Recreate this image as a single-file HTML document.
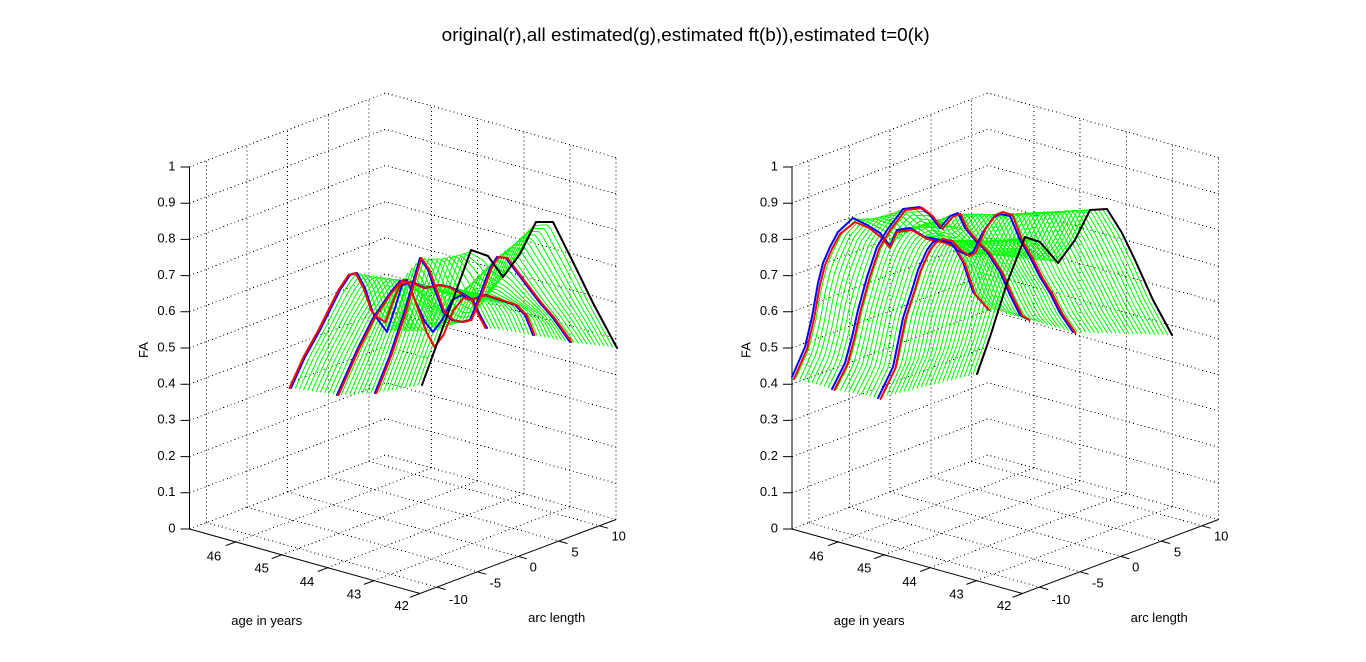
<!DOCTYPE html>
<html><head><meta charset="utf-8"><style>
html,body{margin:0;padding:0;background:#fff;overflow:hidden}
svg{display:block}
text{font-family:"Liberation Sans",Arial,sans-serif;fill:#000}
.t{font-size:13px}
</style></head><body>
<svg id="s" width="1366" height="662" viewBox="0 0 1366 662" xmlns="http://www.w3.org/2000/svg">
<rect width="1366" height="662" fill="#fff"/>
<text x="441.7" y="41" font-size="18.5" textLength="488" lengthAdjust="spacingAndGlyphs">original(r),all estimated(g),estimated ft(b)),estimated t=0(k)</text>
<defs>
<g id="ax">
<path fill="none" stroke="#000" stroke-width="1" stroke-dasharray="1 3" shape-rendering="crispEdges" d="M189.5 529L385.5 455L616 519.5M189.5 492.8L385.5 418.8L616 483.3M189.5 456.6L385.5 382.6L616 447.1M189.5 420.4L385.5 346.4L616 410.9M189.5 384.2L385.5 310.2L616 374.7M189.5 348L385.5 274L616 338.5M189.5 311.8L385.5 237.8L616 302.3M189.5 275.6L385.5 201.6L616 266.1M189.5 239.4L385.5 165.4L616 229.9M189.5 203.2L385.5 129.2L616 193.7M189.5 167L385.5 93L616 157.5M206.4 522.6V160.6M246.9 507.3V145.3M287.7 491.9V129.9M328.3 476.6V114.6M368.8 461.3V99.3M431.6 467.9V105.9M477.7 480.8V118.8M523.8 493.7V131.7M569.9 506.6V144.6M616 519.5V157.5M235.6 541.9L431.6 467.9M281.7 554.8L477.7 480.8M327.8 567.7L523.8 493.7M373.9 580.6L569.9 506.6M206.4 522.6L436.9 587.1M246.9 507.3L477.4 571.8M287.7 491.9L518.2 556.4M328.3 476.6L558.8 541.1M368.8 461.3L599.3 525.8"/>
<path fill="none" stroke="#000" stroke-width="1" d="M189.5 529V167M189.5 529L420 593.5L616 519.5M180.5 529H189.5M180.5 492.8H189.5M180.5 456.6H189.5M180.5 420.4H189.5M180.5 384.2H189.5M180.5 348H189.5M180.5 311.8H189.5M180.5 275.6H189.5M180.5 239.4H189.5M180.5 203.2H189.5M180.5 167H189.5M235.6 541.9l-10 3.8M281.7 554.8l-10 3.8M327.8 567.7l-10 3.8M373.9 580.6l-10 3.8M420 593.5l-10 3.8M436.9 587.1l8.7 2.4M477.4 571.8l8.7 2.4M518.2 556.4l8.7 2.4M558.8 541.1l8.7 2.4M599.3 525.8l8.7 2.4"/>
</g>
</defs>
<use href="#ax"/>
<use href="#ax" transform="translate(602.5,0)"/>

<!-- left labels -->
<g class="t">
<g text-anchor="end">
<text x="175.5" y="532.3">0</text><text x="175.5" y="496.1">0.1</text><text x="175.5" y="459.9">0.2</text><text x="175.5" y="423.7">0.3</text><text x="175.5" y="387.5">0.4</text><text x="175.5" y="351.3">0.5</text><text x="175.5" y="315.1">0.6</text><text x="175.5" y="278.9">0.7</text><text x="175.5" y="242.7">0.8</text><text x="175.5" y="206.5">0.9</text><text x="175.5" y="170.3">1</text>
</g>
<g text-anchor="middle">
<text x="214" y="560.7">46</text><text x="261.7" y="572.7">45</text><text x="307" y="586">44</text><text x="354" y="598.3">43</text><text x="401.7" y="610">42</text>
<text x="458.3" y="604">-10</text><text x="495.3" y="587.3">-5</text><text x="533.3" y="571.7">0</text><text x="575" y="556.7">5</text><text x="618.7" y="540.7">10</text>
<text x="266.7" y="625">age in years</text><text x="556.7" y="622">arc length</text>
<text transform="translate(148,350) rotate(-90)" x="0" y="0">FA</text>
</g>
</g>
<!-- right labels -->
<g class="t" transform="translate(602.5,0)">
<g text-anchor="end">
<text x="175.5" y="532.3">0</text><text x="175.5" y="496.1">0.1</text><text x="175.5" y="459.9">0.2</text><text x="175.5" y="423.7">0.3</text><text x="175.5" y="387.5">0.4</text><text x="175.5" y="351.3">0.5</text><text x="175.5" y="315.1">0.6</text><text x="175.5" y="278.9">0.7</text><text x="175.5" y="242.7">0.8</text><text x="175.5" y="206.5">0.9</text><text x="175.5" y="170.3">1</text>
</g>
<g text-anchor="middle">
<text x="214" y="560.7">46</text><text x="261.7" y="572.7">45</text><text x="307" y="586">44</text><text x="354" y="598.3">43</text><text x="401.7" y="610">42</text>
<text x="458.3" y="604">-10</text><text x="495.3" y="587.3">-5</text><text x="533.3" y="571.7">0</text><text x="575" y="556.7">5</text><text x="618.7" y="540.7">10</text>
<text x="266.7" y="625">age in years</text><text x="556.7" y="622">arc length</text>
<text transform="translate(148,350) rotate(-90)" x="0" y="0">FA</text>
</g>
</g>

<path id="gL" fill="none" stroke="#00ff00" stroke-width="1" shape-rendering="crispEdges" d=""/>
<path id="gR" fill="none" stroke="#00ff00" stroke-width="1" shape-rendering="crispEdges" d=""/>

<g fill="none" stroke-width="2" stroke-linejoin="round" stroke-linecap="round">
<!-- left -->
<polyline stroke="#0000ff" points="291,388 305,357 320,330 340,290 350,275 357,273 365,288 373,313 387,332 395,308 402,285 412,282 425,288 440,285 450,287 460,292 473,300 480,315 487,328"/>
<polyline stroke="#ff0000" transform="translate(-1.5,0)" points="291,388 305,357 320,330 340,290 350,275 357,273 365,288 373,311 380,318 387,322 395,300 402,284 412,282 425,288 440,285 450,287 460,292 473,300 480,315 487,328"/>
<polyline stroke="#0000ff" points="337,395 357,350 373,318 390,293 400,281 407,280 415,300 425,322 433,332 442,320 452,300 462,295 470,300 485,295 500,300 515,305 525,315 533,335"/>
<polyline stroke="#ff0000" transform="translate(1.5,0)" points="337,395 357,350 373,318 390,293 400,281 407,282 415,305 425,332 433,347 442,335 452,310 462,298 470,300 485,295 500,300 515,305 525,315 533,335"/>
<polyline stroke="#0000ff" points="375,393 390,355 405,310 415,275 420,258 428,270 435,290 443,312 452,320 462,322 470,320 480,295 490,268 497,257 506,258 515,270 527,286 540,303 553,318 570,342"/>
<polyline stroke="#ff0000" transform="translate(1.5,0)" points="375,393 390,355 405,310 415,275 420,258 428,270 435,290 443,312 452,320 462,322 470,320 480,295 490,268 497,257 506,258 515,270 527,286 540,303 553,318 570,342"/>
<polyline stroke="#000000" points="422,385 471,250 488,256 503,277 520,254 536,222 553,222 573,262 593,303 617,348"/>
<!-- right -->
<polyline stroke="#0000ff" points="792,377 805,347 812,317 818,283 823,263 830,247 838,232 853,218 867,225 880,233 890,246 897,230 910,228 925,237 940,240 953,245 963,262 973,292 987,308"/>
<polyline stroke="#ff0000" transform="translate(2,2)" points="792,377 805,347 812,317 818,283 823,263 830,247 838,232 853,220 867,226 880,236 888,246 895,230 910,228 925,237 940,240 953,245 963,262 973,292 987,308"/>
<polyline stroke="#0000ff" points="832,389 845,363 852,337 858,310 867,277 877,247 887,230 897,217 903,209 920,207 930,215 940,228 950,216 958,213 965,228 975,240 987,252 1000,272 1010,295 1020,315 1027,319"/>
<polyline stroke="#ff0000" transform="translate(2.5,1)" points="832,389 845,363 852,337 858,310 867,277 877,247 887,230 897,217 903,209 920,207 930,215 940,228 950,216 958,213 965,228 975,240 987,252 1000,272 1010,295 1020,315 1027,319"/>
<polyline stroke="#0000ff" points="878,398 893,367 903,318 912,290 918,270 927,250 933,242 940,240 950,242 957,250 967,255 973,252 983,232 993,218 1000,214 1010,216 1020,240 1030,257 1040,277 1050,293 1060,313 1073,332"/>
<polyline stroke="#ff0000" transform="translate(2.5,1)" points="878,398 893,367 903,318 912,290 918,270 927,250 933,242 940,238 950,240 957,248 967,255 973,252 983,228 993,214 1000,211 1010,214 1020,240 1030,257 1040,277 1050,293 1060,313 1073,332"/>
<polyline stroke="#000000" points="977,374 990,337 1007,283 1025,237 1040,242 1058,263 1075,240 1090,210 1107,209 1122,233 1135,260 1153,300 1172,335"/>
</g>
</svg>
<script>
(function(){
function iy(p,x){for(var i=0;i<p.length-1;i++){var a=p[i],b=p[i+1];if(x<=b[0]||i==p.length-2){var t=(x-a[0])/(b[0]-a[0]);return a[1]+t*(b[1]-a[1]);}}}
function rs(p,N){var s=p[0][0],e=p[p.length-1][0],o=[];for(var i=0;i<N;i++){var x=s+(e-s)*i/(N-1);o.push([x,iy(p,x)]);}return o;}
function pp(str){return str.trim().split(/\s+/).map(function(q){var a=q.split(',');return [+a[0],+a[1]];});}
function green(id,curves,counts){var N=70,r=curves.map(function(c){return rs(pp(c),N);}),d="";
for(var c=0;c<r.length-1;c++){var P=r[c],Q=r[c+1],m=counts[c];for(var k=0;k<=m;k++){var t=k/m;for(var i=0;i<N;i++){var x=P[i][0]*(1-t)+Q[i][0]*t,y=P[i][1]*(1-t)+Q[i][1]*t;d+=(i?"L":"M")+x.toFixed(1)+" "+y.toFixed(1);}}}
document.getElementById(id).setAttribute("d",d);}
green("gL",[
"291,388 305,357 320,330 340,290 350,275 357,273 365,288 373,313 387,332 395,308 402,285 412,282 425,288 440,285 450,287 460,292 473,300 480,315 487,328",
"337,395 357,350 373,318 390,293 400,281 407,280 415,300 425,322 433,332 442,320 452,300 462,295 470,300 485,295 500,300 515,305 525,315 533,335",
"375,393 390,355 405,310 415,275 420,258 428,270 435,290 443,312 452,320 462,322 470,320 480,295 490,268 497,257 506,258 515,270 527,286 540,303 553,318 570,342",
"422,385 471,250 488,256 503,277 520,254 536,222 553,222 573,262 593,303 617,348"],[11,9,11]);
green("gR",[
"792,377 805,347 812,317 818,283 823,263 830,247 838,232 853,218 867,225 880,233 890,246 897,230 910,228 925,237 940,240 953,245 963,262 973,292 987,308",
"832,389 845,363 852,337 858,310 867,277 877,247 887,230 897,217 903,209 920,207 930,215 940,228 950,216 958,213 965,228 975,240 987,252 1000,272 1010,295 1020,315 1027,319",
"878,398 893,367 903,318 912,290 918,270 927,250 933,242 940,240 950,242 957,250 967,255 973,252 983,232 993,218 1000,214 1010,216 1020,240 1030,257 1040,277 1050,293 1060,313 1073,332",
"977,374 990,337 1007,283 1025,237 1040,242 1058,263 1075,240 1090,210 1107,209 1122,233 1135,260 1153,300 1172,335"],[10,11,23]);
})();
</script>
</body></html>
